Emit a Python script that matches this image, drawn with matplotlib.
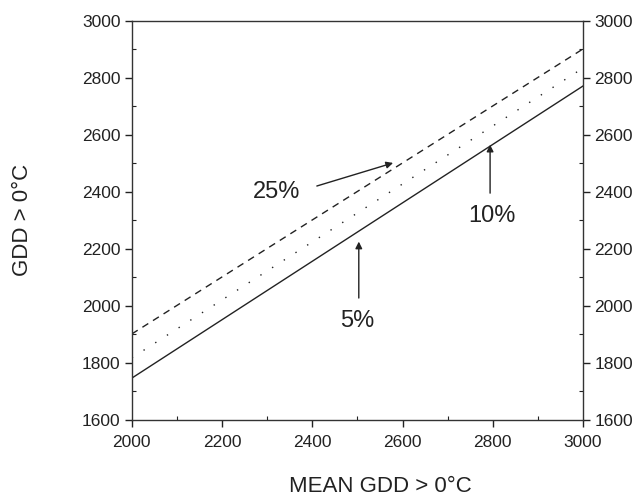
import matplotlib
matplotlib.use("Agg")
import matplotlib.pyplot as plt
from matplotlib.ticker import MultipleLocator

plt.rcParams['font.family'] = ['Liberation Sans', 'DejaVu Sans']

# Data
x_vals = [2000, 3000]
line_5 = [1747, 2772]
line_10 = [1818, 2835]
line_25 = [1902, 2902]

ann_labels = ["25%", "10%", "5%"]
ann_text_xy = [(2321, 2400), (2798, 2316), (2499, 1947)]
ann_tail_xy = [(2410, 2421), (2794, 2396), (2503, 2028)]
ann_head_xy = [(2579, 2502), (2794, 2566), (2503, 2226)]

xticks = [2000, 2200, 2400, 2600, 2800, 3000]
yticks = [1600, 1800, 2000, 2200, 2400, 2600, 2800, 3000]

fig = plt.figure(figsize=(6.4, 5.0), dpi=100)
ax = fig.add_axes([0.206, 0.16, 0.705, 0.798])

col = '#222222'
ax.plot(x_vals, line_5, color=col, lw=1.0, ls='-')
ax.plot(x_vals, line_10, color=col, lw=1.0, ls=(0, (1, 9)))
ax.plot(x_vals, line_25, color=col, lw=1.0, ls=(0, (5, 4)))

for lab, txy, tail, head in zip(ann_labels, ann_text_xy, ann_tail_xy, ann_head_xy):
    ax.text(txy[0], txy[1], lab, ha='center', va='center', fontsize=17, color=col)
    ax.annotate('', xy=head, xytext=tail,
                arrowprops=dict(arrowstyle='-|>', color=col, lw=1.0,
                                mutation_scale=10, shrinkA=0, shrinkB=0))

ax.set_xlim(2000, 3000)
ax.set_ylim(1600, 3000)
ax.set_xticks(xticks)
ax.set_yticks(yticks)
ax.xaxis.set_minor_locator(MultipleLocator(100))
ax.yaxis.set_minor_locator(MultipleLocator(100))
ax.tick_params(which='major', direction='out', length=5, width=1, colors=col,
               labelsize=12.5, left=True, right=True, labelright=True, bottom=True, top=False,
               pad=3)
ax.tick_params(which='minor', direction='in', length=3, width=0.8, colors=col,
               left=True, right=True, bottom=True, top=False)
ax.tick_params(axis='x', which='major', pad=6)

for s in ax.spines.values():
    s.set_color('#333333')
    s.set_linewidth(1.0)

fig.text(0.595, 0.006, 'MEAN GDD > 0°C', fontsize=16, color=col, ha='center', va='bottom')
fig.text(0.035, 0.56, 'GDD > 0°C', fontsize=16, color=col, ha='center', va='center',
         rotation=90)

fig.savefig('out.png', dpi=100)
